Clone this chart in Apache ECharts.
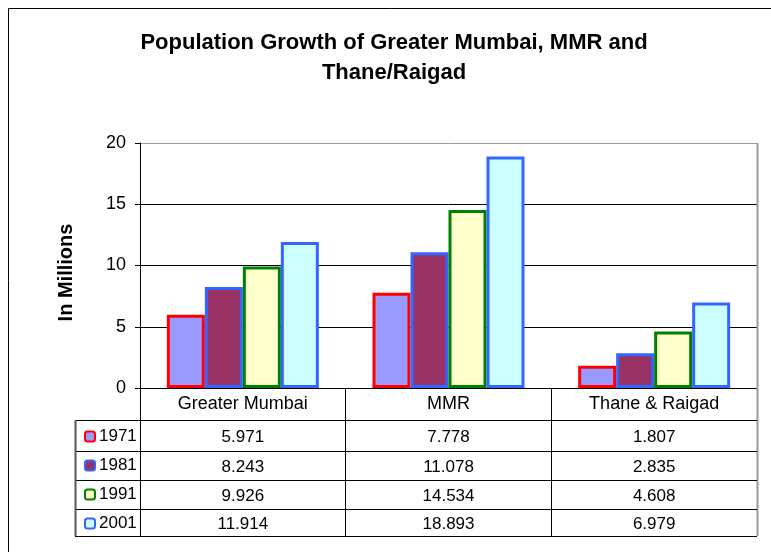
<!DOCTYPE html>
<html><head><meta charset="utf-8">
<script src="https://cdn.jsdelivr.net/npm/echarts@6/dist/echarts.min.js"></script>
<style>html,body{margin:0;padding:0;background:#fff}#c{width:771px;height:552px}</style>
</head><body><div id="c"></div>
<script>
const categories = ['Greater Mumbai', 'MMR', 'Thane & Raigad'];
const years = ['1971', '1981', '1991', '2001'];
const v1971 = [5.971, 7.778, 1.807];
const v1981 = [8.243, 11.078, 2.835];
const v1991 = [9.926, 14.534, 4.608];
const v2001 = [11.914, 18.893, 6.979];
const seriesValues = [v1971, v1981, v1991, v2001];
const fills = ['#9999FF', '#993366', '#FFFFCC', '#CCFFFF'];
const borders = ['#FF0000', '#3366FF', '#008000', '#3366FF'];
const rowOffsets = [0, 32, 63, 92, 121, 148];

const FONT = '"Liberation Sans", Arial, sans-serif';
const chart = echarts.init(document.getElementById('c'), null, {renderer: 'canvas'});

const option = {
  backgroundColor: '#fff',
  animation: false,
  textStyle: {fontFamily: FONT, color: '#000'},
  title: {
    text: 'Population Growth of Greater Mumbai, MMR and\nThane/Raigad',
    left: 389, top: 23, textAlign: 'center',
    textStyle: {fontFamily: FONT, fontSize: 22, fontWeight: 'bold', color: '#000', lineHeight: 30}
  },
  legend: {
    orient: 'vertical', left: 79, top: 423,
    itemWidth: 10, itemHeight: 10, itemGap: 12,
    data: years,
    textStyle: {fontFamily: FONT, fontSize: 17, color: '#000', lineHeight: 17, height: 17, padding: [0, 0, 0, -1]}
  },
  grid: {left: 140, right: 14, top: 143, bottom: 164},
  xAxis: {
    type: 'category', data: categories,
    axisLine: {lineStyle: {color: '#000', width: 1}},
    axisTick: {show: true, length: rowOffsets[5], lineStyle: {color: '#000'}},
    axisLabel: {fontFamily: FONT, fontSize: 18, color: '#000', margin: 7}
  },
  yAxis: {
    type: 'value', min: 0, max: 20, interval: 5,
    name: 'In Millions', nameLocation: 'middle', nameGap: 64, nameRotate: 90,
    nameTextStyle: {fontFamily: FONT, fontSize: 20, fontWeight: 'bold', color: '#000', padding: [0, 14, 0, 0]},
    axisLine: {show: true, lineStyle: {color: '#000'}},
    axisTick: {show: true, length: 5, lineStyle: {color: '#000'}},
    axisLabel: {fontFamily: FONT, fontSize: 18, color: '#000', margin: 14},
    splitLine: {show: true, lineStyle: {color: ['#000', '#000', '#000', '#000', '#999'], width: 1}}
  },
  series: years.map((y, i) => ({
    name: y, type: 'bar', data: seriesValues[i],
    barWidth: 38, barGap: '0%',
    itemStyle: {color: fills[i], borderColor: borders[i], borderWidth: 3}
  }))
};
chart.setOption(option);

// table drawn from data, positions from the category axis
const y0 = chart.convertToPixel({yAxisIndex: 0}, 0);
const yTop = chart.convertToPixel({yAxisIndex: 0}, 20);
const xs = categories.map(c => chart.convertToPixel({xAxisIndex: 0}, c));
const catW = xs[1] - xs[0];
const xRight = xs[xs.length - 1] + catW / 2;
const tableLeft = 75;
const g = [];
// outer chart border
g.push({type: 'rect', shape: {x: 8.5, y: 8.5, width: 900, height: 900}, style: {fill: null, stroke: '#000', lineWidth: 1}, silent: true});
// right plot border
g.push({type: 'line', shape: {x1: Math.round(xRight) + 0.5, y1: yTop, x2: Math.round(xRight) + 0.5, y2: y0 + rowOffsets[5]}, style: {stroke: '#999', lineWidth: 2}, z: 10});
// row lines
for (let r = 1; r < rowOffsets.length; r++) {
  const yy = Math.round(y0 + rowOffsets[r]) + 0.5;
  g.push({type: 'line', shape: {x1: tableLeft, y1: yy, x2: xRight, y2: yy}, style: {stroke: '#000', lineWidth: 1}, z: 10});
}
// left table border
g.push({type: 'line', shape: {x1: tableLeft + 0.5, y1: y0 + rowOffsets[1], x2: tableLeft + 0.5, y2: y0 + rowOffsets[5]}, style: {stroke: '#555', lineWidth: 2}, z: 10});
// cell values
seriesValues.forEach((vals, r) => {
  const cy = y0 + (rowOffsets[r + 1] + rowOffsets[r + 2]) / 2 + 1.5;
  vals.forEach((v, c) => {
    g.push({type: 'text', x: xs[c], y: cy, style: {text: v.toFixed(3), fontFamily: FONT, fontSize: 17, fill: '#000', textAlign: 'center', textVerticalAlign: 'middle'}, z: 10});
  });
});
chart.setOption({graphic: g});
</script>
</body></html>
